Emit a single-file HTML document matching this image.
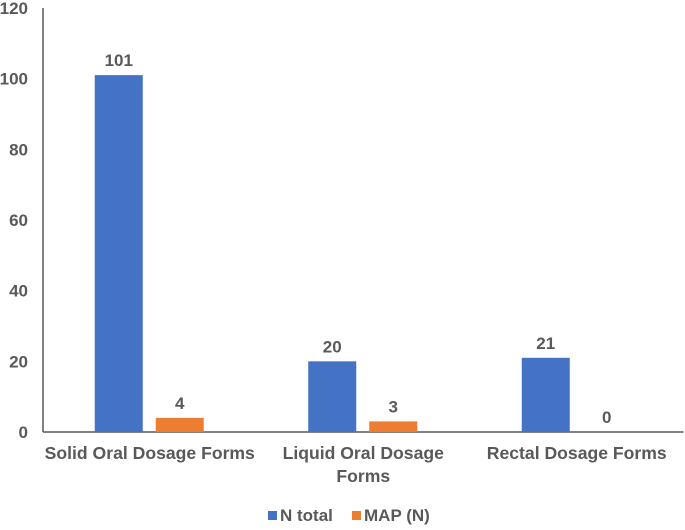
<!DOCTYPE html>
<html><head><meta charset="utf-8"><style>
body{margin:0;background:#fff;}
svg text{font-family:"Liberation Sans",Arial,sans-serif;font-weight:bold;fill:#595959;}
</style></head><body>
<svg width="685" height="525">
<g id="plot"></g>
</svg>
<script>
const categories=[["Solid Oral Dosage Forms"],["Liquid Oral Dosage","Forms"],["Rectal Dosage Forms"]];
const nTotal=[101,20,21];
const mapN=[4,3,0];
const ticks=[0,20,40,60,80,100,120];
const ns="http://www.w3.org/2000/svg";
const g=document.getElementById('plot');
const x0=43,baseY=432,topY=8,maxV=120;
const catW=213.5;
function y(v){return baseY-(baseY-topY)*v/maxV;}
function cx(i){return x0+catW*(i+0.5);}
function mk(t,a){const e=document.createElementNS(ns,t);for(const k in a)e.setAttribute(k,a[k]);g.appendChild(e);return e;}
ticks.forEach(t=>{const e=mk('text',{x:28,y:y(t)+6,'text-anchor':'end','font-size':17});e.textContent=t;

});
const ax=mk('line',{x1:x0,y1:topY,x2:x0,y2:baseY,stroke:'#595959','stroke-width':1.5});


const bx=mk('line',{x1:x0,y1:baseY,x2:x0+catW*3,y2:baseY,stroke:'#595959','stroke-width':1.5});


function bar(v,xc,color,name){
 const r=mk('rect',{x:xc-24,y:y(v),width:48,height:baseY-y(v),fill:color});
 
 
 const t=mk('text',{x:xc,y:y(v)-9,'text-anchor':'middle','font-size':17,fill:'#404040'});
 t.textContent=v;
 
 
}
categories.forEach((c,i)=>{
 bar(nTotal[i],cx(i)-31,'#4472c4','bar-n-total');
 bar(mapN[i],cx(i)+30,'#ed7d31','bar-map-n');
 c.forEach((line,j)=>{const t=mk('text',{x:cx(i),y:459+j*23,'text-anchor':'middle','font-size':17.6});t.textContent=line;
 
 });
});
[[268,'#4472c4','N total'],[352,'#ed7d31','MAP (N)']].forEach(([lx,col,txt])=>{
 const r=mk('rect',{x:lx,y:511,width:9,height:9,fill:col});
 
 
 const t=mk('text',{x:lx+12,y:521,'font-size':17});t.textContent=txt;
 
 
});
</script>
</body></html>
